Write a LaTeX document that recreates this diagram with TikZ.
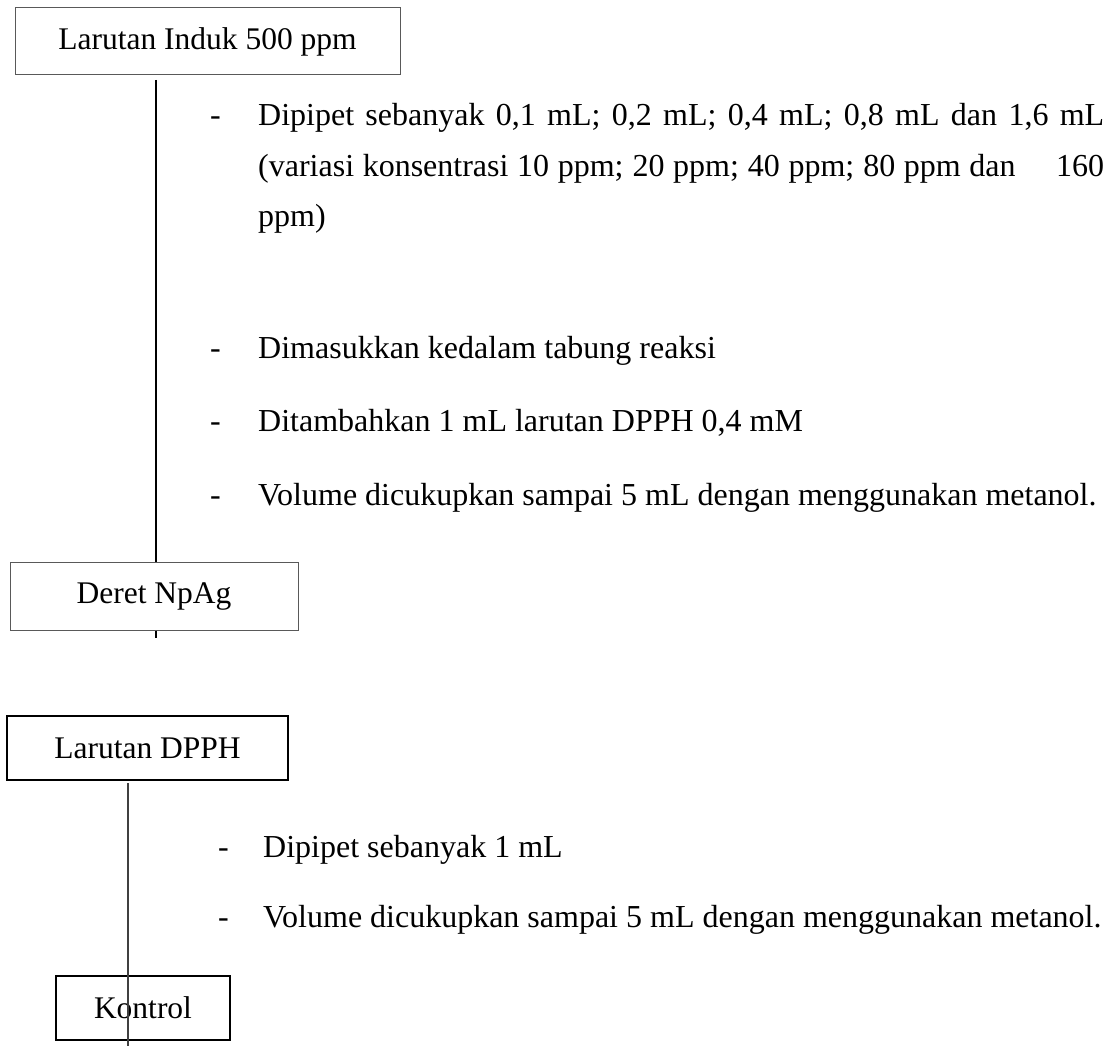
\documentclass[tikz,border=0pt]{standalone}
\usepackage{fontspec}
\setmainfont{Liberation Serif}
\begin{document}
\begin{tikzpicture}[x=1pt,y=1pt,
  every node/.style={font=\fontsize{32}{38}\selectfont},
  thinbox/.style={draw=black!65, line width=1pt, inner sep=0pt, rectangle, font=\fontsize{31.5}{38}\selectfont},
  thickbox/.style={draw=black, line width=2pt, inner sep=0pt, rectangle, font=\fontsize{31.5}{38}\selectfont},
  txt/.style={anchor=base west, inner sep=0pt},
  conn/.style={draw=black, line width=1.6pt},
  conn2/.style={draw=black!75, line width=1.2pt}]
\useasboundingbox (0,0) rectangle (1117,-1046);

% boxes
\node[thinbox, minimum width=385pt, minimum height=67pt] (a) at (207.5,-41.5) {Larutan Induk 500 ppm};
\node[thinbox, minimum width=288pt, minimum height=68pt] (b) at (154,-596) {Deret NpAg};
\node[thickbox, minimum width=281pt, minimum height=64pt] (c) at (147.5,-748) {Larutan DPPH};
\node[thickbox, minimum width=174pt, minimum height=64pt] (d) at (143,-1008) {Kontrol};

% block 1
\node[txt] (d1) at (210,-126) {-};
\node[txt] (t1) at (258,-126) {\makebox[846pt][s]{Dipipet sebanyak 0,1 mL; 0,2 mL; 0,4 mL; 0,8 mL dan 1,6 mL}};
\node[txt] (t2) at (258,-176) {\makebox[846pt][s]{(variasi konsentrasi 10 ppm; 20 ppm; 40 ppm; 80 ppm dan\quad\ 160}};
\node[txt] (t3) at (258,-226) {ppm)};
\node[txt] (d4) at (210,-358) {-};
\node[txt] (t4) at (258,-358) {Dimasukkan kedalam tabung reaksi};
\node[txt] (d5) at (210,-431) {-};
\node[txt] (t5) at (258,-431) {Ditambahkan 1 mL larutan DPPH 0,4 mM};
\node[txt] (d6) at (210,-505) {-};
\node[txt] (t6) at (258,-505) {Volume dicukupkan sampai 5 mL dengan menggunakan metanol.};

% block 2
\node[txt] (d7) at (218,-857) {-};
\node[txt] (t7) at (263,-857) {Dipipet sebanyak 1 mL};
\node[txt] (d8) at (218,-927) {-};
\node[txt] (t8) at (263,-927) {Volume dicukupkan sampai 5 mL dengan menggunakan metanol.};

% connectors
\coordinate (a1) at (156,-80);
\coordinate (b1) at (156,-638);
\coordinate (c1) at (128,-783);
\coordinate (c2) at (128,-1046);
\draw[conn] (a1) -- (a1 |- b.north);
\draw[conn] (b1 |- b.south) -- (b1);
\draw[conn2] (c1) -- (c2);
\end{tikzpicture}
\end{document}
